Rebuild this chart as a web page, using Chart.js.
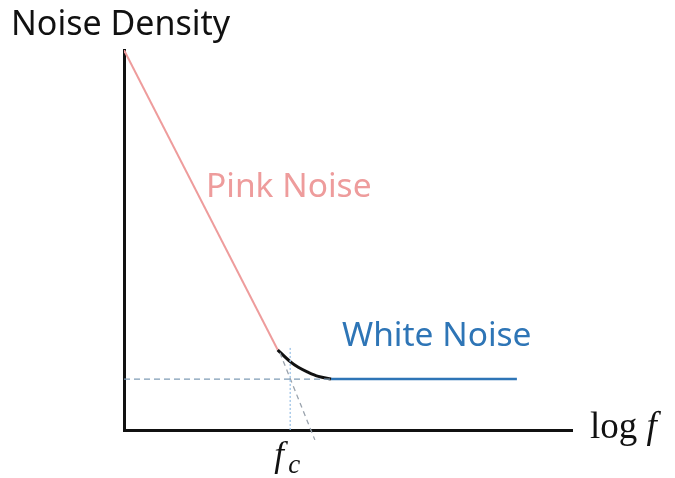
<!DOCTYPE html>
<html>
<head>
<meta charset="utf-8">
<script src="https://cdn.jsdelivr.net/npm/chart.js@4.4.1/dist/chart.umd.min.js"></script>
<style>
  html, body { margin: 0; padding: 0; background: #fff; }
  canvas { display: block; }
</style>
</head>
<body>
<canvas id="noiseChart" width="675" height="478"></canvas>
<script>
// 1/f noise vs white noise, x = log f, y = noise density (arbitrary units)
const pinkX = [0, 3.43];
const pinkY = [10, 2.11];

const kneeX = [3.43, 3.71, 3.89, 4.11, 4.34, 4.62];
const kneeY = [2.11, 1.80, 1.65, 1.52, 1.41, 1.34];

const whiteX = [4.62, 8.77];
const whiteY = [1.34, 1.34];

const floorX = [0, 4.62];
const floorY = [1.34, 1.34];

const cornerX = [3.71, 3.71];
const cornerY = [2.16, 0];

const slopeX = [3.48, 4.26];
const slopeY = [2.03, -0.26];

const toPoints = (xs, ys) => xs.map((x, i) => ({ x: x, y: ys[i] }));

// =========================
// text labels drawn on top
// =========================
const labelPlugin = {
    id: "noiseLabels",
    afterDraw(chart) {
        const ctx = chart.ctx;
        const area = chart.chartArea;
        ctx.save();
        ctx.textBaseline = "alphabetic";
        ctx.textAlign = "left";

        ctx.fillStyle = "#111";
        ctx.font = "34px 'Noto Sans'";
        ctx.fillText("Noise Density", 11, 35);

        ctx.font = "33.5px 'Noto Sans'";
        ctx.fillStyle = "#EE9C9C";
        ctx.fillText("Pink Noise", 206, 197);

        ctx.fillStyle = "#2E75B6";
        ctx.fillText("White Noise", 342, 346);

        // log f at the end of the x axis
        ctx.fillStyle = "#111";
        ctx.font = "37px 'Liberation Serif'";
        ctx.fillText("log", area.right + 18, 438);
        const logW = ctx.measureText("log ").width;
        ctx.font = "italic 37px 'Liberation Serif'";
        ctx.fillText("f", area.right + 18 + logW, 438);

        // corner frequency under the axis
        const fcX = chart.scales.x.getPixelForValue(cornerX[0]);
        ctx.font = "italic 35px 'Liberation Serif'";
        ctx.fillText("f", fcX - 16, 466);
        ctx.font = "italic 27px 'Liberation Serif'";
        ctx.fillText("c", fcX - 2, 473);

        ctx.restore();
    }
};

new Chart(document.getElementById("noiseChart"), {
    type: "scatter",
    data: {
        datasets: [
            {
                data: toPoints(floorX, floorY),
                borderColor: "#7F9CB5",
                borderWidth: 1.3,
                borderDash: [6, 4]
            },
            {
                data: toPoints(cornerX, cornerY),
                borderColor: "#9DC3E6",
                borderWidth: 1.3,
                borderDash: [2, 2]
            },
            {
                data: toPoints(slopeX, slopeY),
                borderColor: "#9AA3AD",
                borderWidth: 1.3,
                borderDash: [5, 4],
                clip: false
            },
            {
                data: toPoints(pinkX, pinkY),
                borderColor: "#EE9C9C",
                borderWidth: 2
            },
            {
                data: toPoints(kneeX, kneeY),
                borderColor: "#111",
                borderWidth: 3,
                cubicInterpolationMode: "monotone"
            },
            {
                data: toPoints(whiteX, whiteY),
                borderColor: "#2E75B6",
                borderWidth: 2.5
            }
        ]
    },
    options: {
        responsive: false,
        animation: false,
        showLine: true,
        layout: {
            padding: { left: 124, top: 50, right: 103, bottom: 48 }
        },
        elements: {
            point: { radius: 0, hoverRadius: 0 },
            line: { tension: 0, borderCapStyle: "butt" }
        },
        plugins: {
            legend: { display: false },
            tooltip: { enabled: false }
        },
        scales: {
            x: {
                type: "linear",
                min: 0,
                max: 10,
                grid: { display: false, drawTicks: false },
                ticks: { display: false },
                border: { display: true, color: "#111", width: 3 }
            },
            y: {
                type: "linear",
                min: 0,
                max: 10,
                grid: { display: false, drawTicks: false },
                ticks: { display: false },
                border: { display: true, color: "#111", width: 3 }
            }
        }
    },
    plugins: [labelPlugin]
});
</script>
</body>
</html>
